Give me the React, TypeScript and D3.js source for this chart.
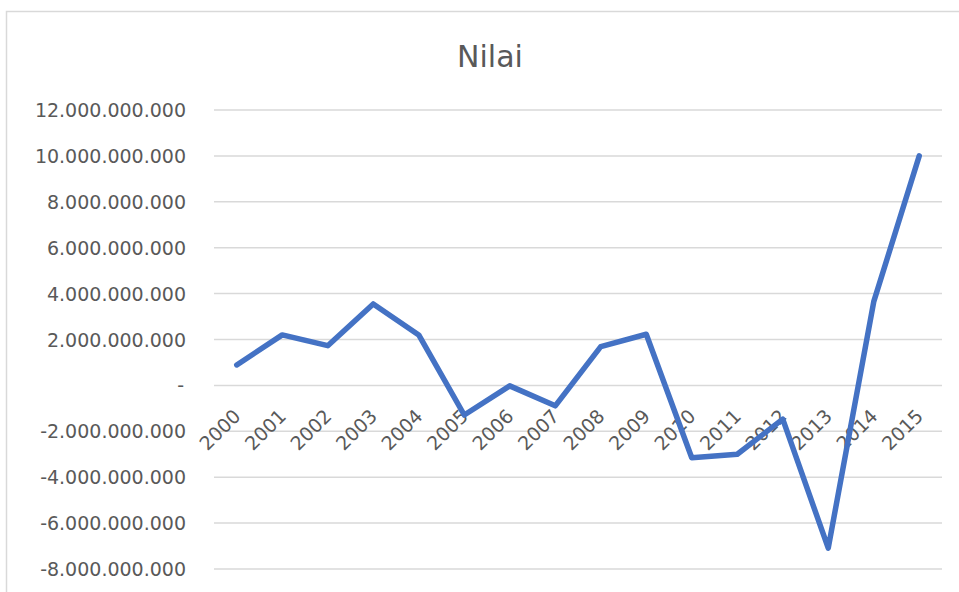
import React, { useEffect, useRef } from 'react';
import * as d3 from 'd3';

const years = ['2000', '2001', '2002', '2003', '2004', '2005', '2006', '2007',
  '2008', '2009', '2010', '2011', '2012', '2013', '2014', '2015'];
const nilai = [0.89e9, 2.2e9, 1.73e9, 3.55e9, 2.2e9, -1.29e9, -0.02e9, -0.89e9,
  1.69e9, 2.23e9, -3.15e9, -3.0e9, -1.47e9, -7.09e9, 3.65e9, 10.0e9];
const yTicks = [-8e9, -6e9, -4e9, -2e9, 0, 2e9, 4e9, 6e9, 8e9, 10e9, 12e9];
const title = 'Nilai';

const width = 959;
const height = 592;
const margin = { top: 110, right: 17, bottom: 23, left: 214 };
const textColor = '#595959';
const font = '"DejaVu Sans", sans-serif';

const App = () => {
  const ref = useRef<SVGSVGElement>(null);

  useEffect(() => {
    const svg = d3.select(ref.current);
    svg.selectAll('*').remove();

    const locale = d3.formatLocale({ decimal: ',', thousands: '.', grouping: [3], currency: ['', ''], minus: '-' });
    const fmt = locale.format(',d');
    const tickLabel = (d: number) => (d === 0 ? '-' : fmt(d));

    const x = d3.scalePoint<string>()
      .domain(years)
      .range([margin.left, width - margin.right])
      .padding(0.5);
    const y = d3.scaleLinear()
      .domain([-8e9, 12e9])
      .range([height - margin.bottom, margin.top]);

    // chart frame (cropped on right / bottom like the screenshot)
    svg.append('rect')
      .attr('x', 6.5).attr('y', 11.5)
      .attr('width', width + 20).attr('height', height + 20)
      .attr('fill', '#fff')
      .attr('stroke', '#d9d9d9')
      .attr('stroke-width', 1.5);

    svg.append('text')
      .text(title)
      .attr('x', 490).attr('y', 67)
      .attr('text-anchor', 'middle')
      .attr('fill', textColor)
      .style('font-family', font)
      .style('font-size', '30px');

    // gridlines
    svg.append('g')
      .selectAll('line')
      .data(yTicks).enter()
      .append('line')
        .attr('x1', margin.left)
        .attr('x2', width - margin.right)
        .attr('y1', d => y(d))
        .attr('y2', d => y(d))
        .attr('stroke', '#d9d9d9')
        .attr('stroke-width', 1.5);

    // y labels
    svg.append('g')
      .selectAll('text')
      .data(yTicks).enter()
      .append('text')
        .text(d => tickLabel(d))
        .attr('x', d => (d === 0 ? 184 : 186))
        .attr('y', d => y(d) + 7)
        .attr('text-anchor', 'end')
        .attr('fill', textColor)
        .style('font-family', font)
        .style('font-size', '19px');

    // x labels, rotated, hanging below the zero line
    svg.append('g')
      .selectAll('text')
      .data(years).enter()
      .append('text')
        .text(d => d)
        .attr('text-anchor', 'end')
        .attr('fill', textColor)
        .style('font-family', font)
        .style('font-size', '19px')
        .attr('transform', d => `translate(${(x(d) as number) + 5}, ${y(0) + 32}) rotate(-45)`);

    const line = d3.line<number>()
      .x((_, i) => x(years[i]) as number)
      .y(d => y(d));

    svg.append('path')
      .datum(nilai)
      .attr('d', line)
      .attr('fill', 'none')
      .attr('stroke', '#4472C4')
      .attr('stroke-width', 5.5)
      .attr('stroke-linejoin', 'round')
      .attr('stroke-linecap', 'round');
  }, []);

  return (
    <div style={{ position: 'absolute', left: 0, top: 0, width, height, background: '#fff' }}>
      <svg ref={ref} width={width} height={height} style={{ display: 'block' }} />
    </div>
  );
};

export default App;
